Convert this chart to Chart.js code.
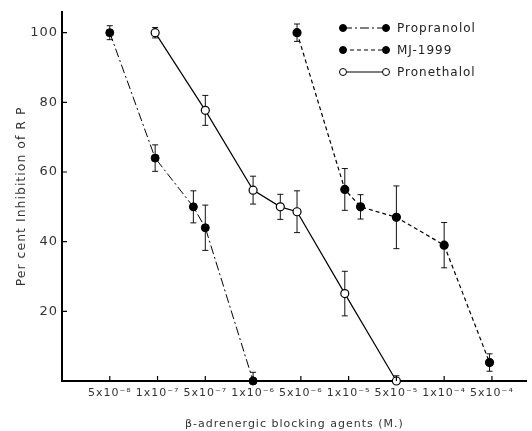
<!DOCTYPE html>
<html>
<head>
<meta charset="utf-8">
<script src="https://cdn.jsdelivr.net/npm/chart.js@4"></script>
<style>
  html, body { margin: 0; padding: 0; background: #fff; }
</style>
</head>
<body>
<canvas id="inhibChart" width="532" height="431"></canvas>
<script>
// x axis: categories placed at positions 1..9
const xTickLabels = ['5x10⁻⁸', '1x10⁻⁷', '5x10⁻⁷', '1x10⁻⁶', '5x10⁻⁶', '1x10⁻⁵', '5x10⁻⁵', '1x10⁻⁴', '5x10⁻⁴'];
const xTickPos = [1, 2, 3, 4, 5, 6, 7, 8, 9];
const yTicks = [20, 40, 60, 80, 100];

const seriesNames = ['Propranolol', 'MJ-1999', 'Pronethalol'];

const propX = [1.0, 1.95, 2.75, 3.0, 4.0];
const propY = [100, 64, 50, 44, 0];
const propErr = [2, 3.8, 4.6, 6.5, 2.5];

const mjX = [4.92, 5.92, 6.25, 7.0, 8.0, 8.95];
const mjY = [100, 55, 50, 47, 39, 5.3];
const mjErr = [2.5, 6, 3.5, 9, 6.5, 2.5];

const pronX = [1.95, 3.0, 4.0, 4.57, 4.92, 5.92, 7.0];
const pronY = [100, 77.7, 54.8, 50, 48.6, 25.1, 0];
const pronErr = [1.5, 4.3, 4, 3.6, 6, 6.4, 1.5];

const seriesErr = [propErr, mjErr, pronErr];

function toPoints(xs, ys) {
    return xs.map((v, i) => ({ x: v, y: ys[i] }));
}

// error bars under the markers
const errorBars = {
    id: 'errorBars',
    beforeDatasetsDraw(chart) {
        const { ctx, scales: { x, y } } = chart;
        ctx.save();
        ctx.strokeStyle = '#111';
        ctx.lineWidth = 1;
        seriesErr.forEach((errs, i) => {
            const pts = chart.data.datasets[i].data;
            errs.forEach((e, j) => {
                const px = x.getPixelForValue(pts[j].x);
                const top = y.getPixelForValue(pts[j].y + e);
                const bot = y.getPixelForValue(Math.max(0, pts[j].y - e));
                ctx.beginPath();
                ctx.moveTo(px, top); ctx.lineTo(px, bot);
                ctx.moveTo(px - 3, top); ctx.lineTo(px + 3, top);
                ctx.moveTo(px - 3, bot); ctx.lineTo(px + 3, bot);
                ctx.stroke();
            });
        });
        ctx.restore();
    }
};

// small tick marks pointing into the plot, plus the legend
const extras = {
    id: 'extras',
    beforeDraw(chart) {
        chart.ctx.letterSpacing = '1px';
    },
    afterDraw(chart) {
        const { ctx, scales: { x, y }, chartArea } = chart;
        ctx.save();
        ctx.strokeStyle = '#000';
        ctx.lineWidth = 1.2;
        ctx.beginPath();
        yTicks.forEach(v => {
            const py = y.getPixelForValue(v);
            ctx.moveTo(chartArea.left, py); ctx.lineTo(chartArea.left + 5, py);
        });
        xTickPos.forEach(v => {
            const px = x.getPixelForValue(v);
            ctx.moveTo(px, chartArea.bottom); ctx.lineTo(px, chartArea.bottom - 5);
        });
        ctx.stroke();

        // legend
        const rows = [28, 50, 72];
        chart.data.datasets.forEach((ds, i) => {
            const ly = rows[i];
            ctx.strokeStyle = '#000';
            ctx.lineWidth = ds.borderWidth;
            ctx.setLineDash(ds.borderDash || []);
            ctx.beginPath();
            ctx.moveTo(343, ly); ctx.lineTo(386, ly);
            ctx.stroke();
            ctx.setLineDash([]);
            [343, 386].forEach(mx => {
                ctx.beginPath();
                ctx.arc(mx, ly, 3.5, 0, Math.PI * 2);
                ctx.fillStyle = ds.pointBackgroundColor;
                ctx.fill();
                ctx.lineWidth = 1;
                ctx.stroke();
            });
            ctx.fillStyle = '#222';
            ctx.font = '12px "DejaVu Sans"';
            ctx.textAlign = 'left';
            ctx.textBaseline = 'middle';
            ctx.fillText(ds.label, 397, ly + 1);
        });
        ctx.restore();
        ctx.letterSpacing = '0px';
    }
};

const ctx = document.getElementById('inhibChart').getContext('2d');

new Chart(ctx, {
    type: 'line',
    data: {
        datasets: [{
            label: seriesNames[0],
            data: toPoints(propX, propY),
            borderColor: '#000',
            borderWidth: 1,
            borderDash: [9, 3, 2, 3],
            pointBackgroundColor: '#000',
            pointBorderColor: '#000',
            pointRadius: 4,
            tension: 0,
            clip: false
        }, {
            label: seriesNames[1],
            data: toPoints(mjX, mjY),
            borderColor: '#000',
            borderWidth: 1.2,
            borderDash: [4, 3],
            pointBackgroundColor: '#000',
            pointBorderColor: '#000',
            pointRadius: 4,
            tension: 0,
            clip: false
        }, {
            label: seriesNames[2],
            data: toPoints(pronX, pronY),
            borderColor: '#000',
            borderWidth: 1.2,
            pointBackgroundColor: '#fff',
            pointBorderColor: '#000',
            pointBorderWidth: 1.2,
            pointRadius: 4,
            tension: 0,
            clip: false
        }]
    },
    options: {
        responsive: false,
        animation: false,
        layout: {
            padding: { top: 5, right: 2, left: 0, bottom: 0 }
        },
        scales: {
            x: {
                type: 'linear',
                min: 0,
                max: 9.73,
                afterBuildTicks: scale => { scale.ticks = xTickPos.map(v => ({ value: v })); },
                afterFit: scale => { scale.height = 50; },
                grid: { display: false, drawTicks: false },
                border: { display: true, color: '#000', width: 2 },
                ticks: {
                    padding: 6,
                    autoSkip: false,
                    maxRotation: 0,
                    color: '#333',
                    font: { family: 'DejaVu Sans', size: 11 },
                    callback: v => xTickLabels[v - 1]
                },
                title: {
                    display: true,
                    text: 'β-adrenergic blocking agents (M.)',
                    color: '#333',
                    font: { family: 'DejaVu Sans', size: 11 },
                    padding: { top: 4, bottom: 0 }
                }
            },
            y: {
                min: 0,
                max: 106,
                afterBuildTicks: scale => { scale.ticks = yTicks.map(v => ({ value: v })); },
                afterFit: scale => { scale.width = 62; },
                grid: { display: false, drawTicks: false },
                border: { display: true, color: '#000', width: 2 },
                ticks: {
                    padding: 4,
                    color: '#333',
                    font: { family: 'DejaVu Sans', size: 13 }
                },
                title: {
                    display: true,
                    text: 'Per cent Inhibition of R P',
                    color: '#333',
                    font: { family: 'DejaVu Sans', size: 12.5 },
                    padding: { top: 14, bottom: 0 }
                }
            }
        },
        plugins: {
            legend: { display: false },
            tooltip: { enabled: false }
        }
    },
    plugins: [errorBars, extras]
});
</script>
</body>
</html>
